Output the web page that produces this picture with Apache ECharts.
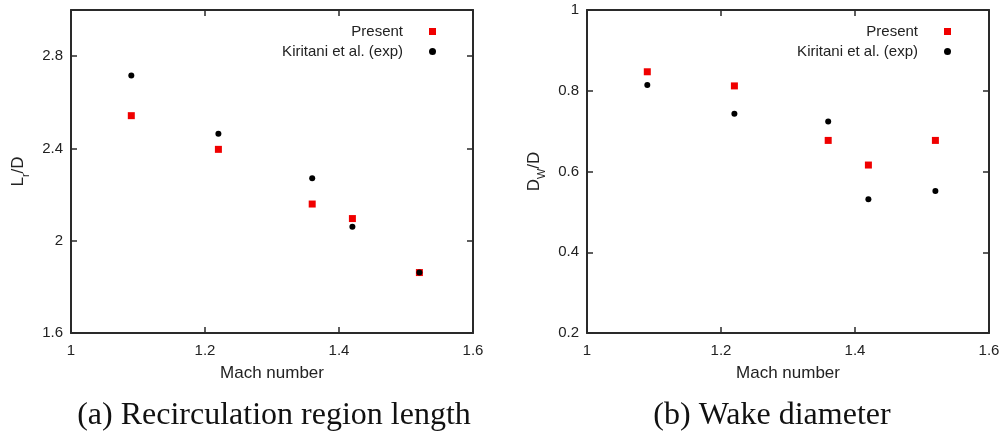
<!DOCTYPE html>
<html>
<head>
<meta charset="utf-8">
<script src="https://cdn.jsdelivr.net/npm/echarts@6/dist/echarts.min.js"></script>
<style>html,body{margin:0;padding:0;background:#fff;}#c{width:1005px;height:434px;}</style>
</head>
<body>
<div id="c"></div>
<script>
const mach = [1.09, 1.22, 1.36, 1.42, 1.52];
const lrPresent = [2.542, 2.396, 2.159, 2.096, 1.862];
const lrKiritani = [2.716, 2.464, 2.271, 2.061, 1.862];
const dwPresent = [0.847, 0.812, 0.677, 0.616, 0.677];
const dwKiritani = [0.814, 0.743, 0.724, 0.531, 0.552];
const seriesNames = ['Present', 'Kiritani et al. (exp)'];
const captions = ['(a) Recirculation region length', '(b) Wake diameter'];
const xName = 'Mach number';

const pair = (xs, ys) => xs.map((x, i) => [x, ys[i]]);
const sans = 'Liberation Sans, Arial, sans-serif';
const lineC = '#2a2a2a';
const txtC = '#222';

function xAx(grid, pos) {
  const bottom = pos === 'bottom';
  return {
    type: 'value', gridIndex: grid, position: pos, min: 1, max: 1.6, interval: 0.2,
    name: bottom ? xName : '', nameLocation: 'middle', nameGap: 32,
    nameTextStyle: { fontFamily: sans, fontSize: 17, color: txtC },
    axisLine: { show: true, lineStyle: { color: lineC, width: 2 } },
    axisTick: { show: true, inside: true, length: 6, lineStyle: { color: lineC, width: 1.5 } },
    axisLabel: { show: bottom, fontFamily: sans, fontSize: 15, color: txtC, margin: 10 },
    splitLine: { show: false }
  };
}
function yAx(grid, pos, min, max, interval, name) {
  const left = pos === 'left';
  return {
    type: 'value', gridIndex: grid, position: pos, min: min, max: max, interval: interval,
    name: left ? name : '', nameLocation: 'middle', nameGap: 44, nameRotate: 90,
    nameTextStyle: { fontFamily: sans, fontSize: 17, color: txtC,
      rich: { s: { fontFamily: sans, fontSize: 11, color: txtC, verticalAlign: 'bottom', padding: [0,0,-4,0] } } },
    axisLine: { show: true, lineStyle: { color: lineC, width: 2 } },
    axisTick: { show: true, inside: true, length: 6, lineStyle: { color: lineC, width: 1.5 } },
    axisLabel: { show: left, fontFamily: sans, fontSize: 15, color: txtC, margin: 8, showMaxLabel: max % interval < 1e-9 || Math.abs(max % interval - interval) < 1e-9 },
    splitLine: { show: false }
  };
}
function legend(right) {
  return {
    orient: 'vertical', align: 'right', right: right, top: 19,
    itemWidth: 7, itemHeight: 7, itemGap: 5,
    textStyle: { fontFamily: sans, fontSize: 15, color: txtC, lineHeight: 15, padding: [0, 21, 0, 0] },
    data: [{ name: seriesNames[0], icon: 'rect' }, { name: seriesNames[1], icon: 'circle' }],
    selectedMode: false
  };
}
function sc(name, xi, yi, data, color, symbol, size, z) {
  return { type: 'scatter', name: name, xAxisIndex: xi, yAxisIndex: yi, data: data,
    symbol: symbol, symbolSize: size, itemStyle: { color: color, opacity: 1 }, z: z,
    emphasis: { disabled: true }, animation: false };
}

const chart = echarts.init(document.getElementById('c'), null, { renderer: 'canvas' });
chart.setOption({
  backgroundColor: '#fff',
  animation: false,
  grid: [
    { left: 71, right: 532, top: 10, bottom: 101 },
    { left: 587, right: 16, top: 10, bottom: 101 }
  ],
  xAxis: [xAx(0, 'bottom'), xAx(0, 'top'), xAx(1, 'bottom'), xAx(1, 'top')],
  yAxis: [
    yAx(0, 'left', 1.6, 3.0, 0.4, '{a|L}{s|r}{a|/D}'),
    yAx(0, 'right', 1.6, 3.0, 0.4, ''),
    yAx(1, 'left', 0.2, 1.0, 0.2, '{a|D}{s|W}{a|/D}'),
    yAx(1, 'right', 0.2, 1.0, 0.2, '')
  ],
  legend: [legend(564), legend(49)],
  series: [
    sc(seriesNames[0], 0, 0, pair(mach, lrPresent), '#f00000', 'rect', 7, 2),
    sc(seriesNames[1], 0, 0, pair(mach, lrKiritani), '#000', 'circle', 6, 3),
    sc(seriesNames[0], 2, 2, pair(mach, dwPresent), '#f00000', 'rect', 7, 2),
    sc(seriesNames[1], 2, 2, pair(mach, dwKiritani), '#000', 'circle', 6, 3)
  ],
  graphic: [
    { type: 'text', x: 274, y: 416, style: { text: captions[0], font: '32px "Liberation Serif", serif', fill: '#111', textAlign: 'center', textVerticalAlign: 'middle' } },
    { type: 'text', x: 772, y: 416, style: { text: captions[1], font: '32px "Liberation Serif", serif', fill: '#111', textAlign: 'center', textVerticalAlign: 'middle' } }
  ]
});
</script>
</body>
</html>
